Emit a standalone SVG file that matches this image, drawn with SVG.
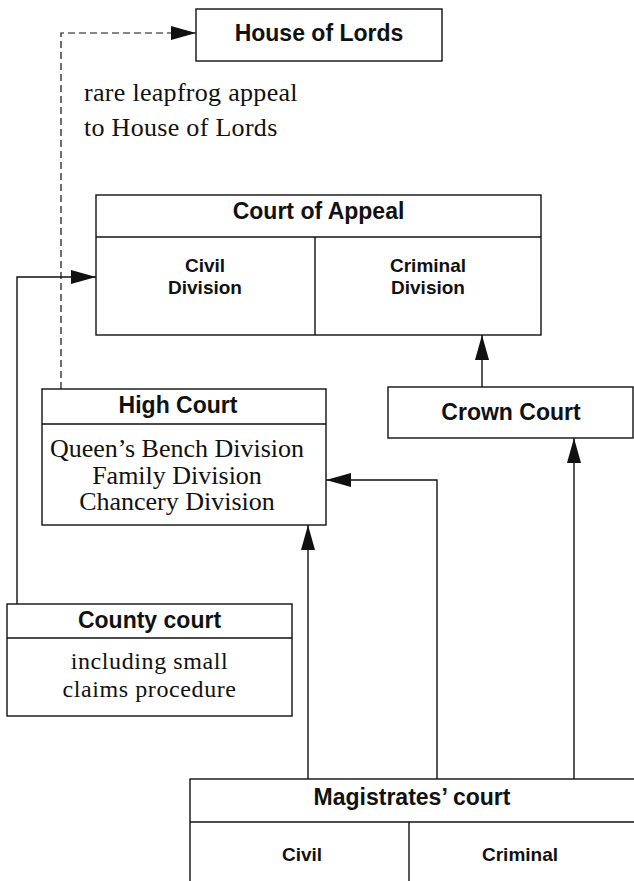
<svg xmlns="http://www.w3.org/2000/svg" width="634" height="881" viewBox="0 0 634 881">
<style>
.box{fill:#fff;stroke:#111;stroke-width:1.4}
.ln{fill:none;stroke:#111;stroke-width:1.4}
.dash{fill:none;stroke:#111;stroke-width:1.2;stroke-dasharray:7 4}
.hd{font-family:"Liberation Sans",Arial,sans-serif;font-weight:bold;font-size:23px;fill:#111;text-anchor:middle}
.sub{font-family:"Liberation Sans",Arial,sans-serif;font-weight:bold;font-size:19px;fill:#111;text-anchor:middle}
.sf{font-family:"Liberation Serif","Times New Roman",serif;font-size:26px;letter-spacing:0.3px;fill:#111}
.sfc{font-family:"Liberation Serif","Times New Roman",serif;font-size:26px;fill:#111;text-anchor:middle}
.sfs{font-family:"Liberation Serif","Times New Roman",serif;font-size:24px;letter-spacing:0.6px;fill:#111;text-anchor:middle}
</style>
<defs>
<marker id="ah" viewBox="0 0 25 14" refX="25" refY="7" markerWidth="25" markerHeight="14" markerUnits="userSpaceOnUse" orient="auto">
<path d="M0,0 L25,7 L0,14 Z" fill="#111"/>
</marker>
</defs>
<g id="connectors">
<path class="dash" d="M61,389 V33 H196" marker-end="url(#ah)"/>
<path class="ln" d="M17,604 V277 H96" marker-end="url(#ah)"/>
<path class="ln" d="M482,387 V335" marker-end="url(#ah)"/>
<path class="ln" d="M308,779 V525" marker-end="url(#ah)"/>
<path class="ln" d="M437,779 V480 H326" marker-end="url(#ah)"/>
<path class="ln" d="M574,779 V438" marker-end="url(#ah)"/>
</g>
<g id="house-of-lords">
<rect class="box" x="196" y="9" width="246" height="52"/>
<text class="hd" x="319" y="41">House of Lords</text>
</g>
<g id="leapfrog-label">
<text class="sf" x="84" y="101">rare leapfrog appeal</text>
<text class="sf" x="84" y="136">to House of Lords</text>
</g>
<g id="court-of-appeal">
<rect class="box" x="96" y="195" width="445" height="140"/>
<line class="ln" x1="96" y1="237" x2="541" y2="237"/>
<line class="ln" x1="315" y1="237" x2="315" y2="335"/>
<text class="hd" x="318.5" y="219">Court of Appeal</text>
<text class="sub" x="205" y="272">Civil</text>
<text class="sub" x="205" y="294">Division</text>
<text class="sub" x="428" y="272">Criminal</text>
<text class="sub" x="428" y="294">Division</text>
</g>
<g id="high-court">
<rect class="box" x="42" y="389" width="284" height="136"/>
<line class="ln" x1="42" y1="424" x2="326" y2="424"/>
<text class="hd" x="178" y="413">High Court</text>
<text class="sfc" x="177" y="457">Queen’s Bench Division</text>
<text class="sfc" x="177" y="483.5">Family Division</text>
<text class="sfc" x="177" y="510">Chancery Division</text>
</g>
<g id="crown-court">
<rect class="box" x="388" y="387" width="245" height="51"/>
<text class="hd" x="511" y="420">Crown Court</text>
</g>
<g id="county-court">
<rect class="box" x="7" y="604" width="285" height="112"/>
<line class="ln" x1="7" y1="638" x2="292" y2="638"/>
<text class="hd" x="149.5" y="628">County court</text>
<text class="sfs" x="149.5" y="669">including small</text>
<text class="sfs" x="149.5" y="697">claims procedure</text>
</g>
<g id="magistrates-court">
<rect class="box" x="190" y="779" width="460" height="120"/>
<line class="ln" x1="190" y1="822" x2="640" y2="822"/>
<line class="ln" x1="409" y1="822" x2="409" y2="881"/>
<text class="hd" x="412" y="805">Magistrates’ court</text>
<text class="sub" x="302" y="861">Civil</text>
<text class="sub" x="520" y="861">Criminal</text>
</g>
</svg>
